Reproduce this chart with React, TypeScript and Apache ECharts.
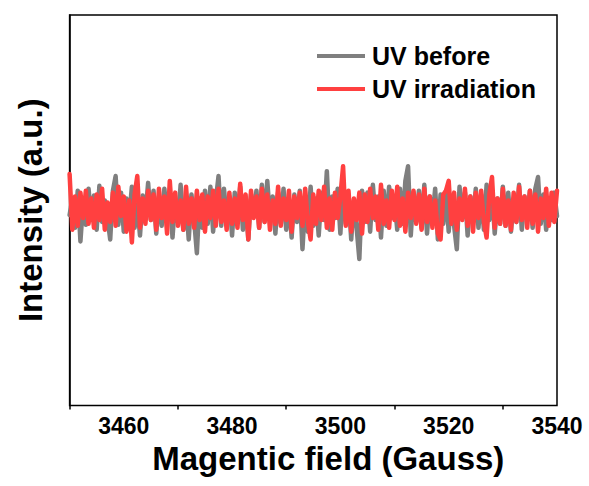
import React, { useEffect, useRef } from "react";
import * as echarts from "echarts";

// Magnetic field sampling (Gauss)
const fieldStart = 3450;
const fieldStep = 0.5;

// Tick labels
const majorTicks = [3460, 3480, 3500, 3520, 3540];
const minorTicks = [3450, 3470, 3490, 3510, 3530];

// EPR intensity (a.u.)
const uvBefore = [
  -5, 12, -18, 20, -32, 8, -15, 22, -10, 15,
  -20, 25, -12, 10, -8, -30, 20, 35, -15, 18,
  -22, 12, -8, 24, -18, 6, -26, 15, -5, 28,
  -10, 20, -24, 14, -16, 22, -6, 18, -28, 10,
  -12, 26, -20, 8, -30, 16, -10, -44, 12, -18,
  20, -14, 24, -22, 10, 35, -16, 22, -8, 14,
  -26, 18, -10, 24, -20, 12, -30, 16, -6, 20,
  -18, 26, -12, 30, -8, 14, -24, 18, -14, 22,
  -20, 10, -28, 16, -12, 20, -40, 8, -22, 24,
  -16, 12, -26, 18, -10, 40, -20, 14, -8, 22,
  -24, 28, -14, 16, -30, 10, -18, -50, 20, -12,
  18, -22, 26, -10, 14, -28, 20, -16, 24, -8,
  12, -20, 22, -14, 30, 45, -26, 18, -12, 20,
  -18, 26, -24, 14, -10, 22, -30, 16, -14, 20,
  -22, 12, -16, -40, 24, -8, 18, -26, 14, -12,
  22, -18, 16, -20, 26, -10, 20, -24, 12, -14,
  24, -16, 18, -22, 10, -12, 26, -20, 14, -8,
  20, -18, 22, 34, -14, 16, -20, 12, -10, 18,
  -6,
];

const uvIrradiation = [
  37, -20, 14, -16, 18, -8, 20, -14, 12, -18,
  16, -10, 22, -20, 8, -12, 18, -16, 24, -6,
  14, -22, 10, -33, 16, 35, -18, 12, -14, 20,
  -10, 16, -20, 22, -8, 14, -24, 30, -12, 18,
  -16, 10, -20, 24, -14, 12, -18, 20, -10, 16,
  -22, 14, -8, 20, -16, 22, -12, 10, -20, 18,
  -14, 12, -18, 27, -10, 16, -30, 20, -8, 14,
  -18, 22, -12, 16, -20, 10, -14, 24, -16, 12,
  -10, 20, -22, 14, -8, 18, -16, 22, -12, -30,
  16, -14, 20, -10, 24, -18, 12, -20, 18, -8,
  14, 45, -16, 20, -22, 12, -10, 18, -24, 16,
  -12, 22, -8, 14, -20, 26, -14, 10, -18, 20,
  -10, 24, -16, 12, -22, 18, -8, 20, -14, 16,
  -20, 22, -12, 14, -18, 10, -24, -30, 16, 20,
  30, -14, 18, -20, 12, -10, 22, -16, 14, -22,
  18, -8, 20, -12, -28, 16, 34, -18, 12, -14,
  22, -16, 10, -20, 18, -12, 24, -10, 14, -18,
  20, -14, 16, -22, 12, -8, 22, -16, 18, -12,
  20,
];

const toPairs = (vals: number[]) =>
  vals.map((v, i) => [fieldStart + i * fieldStep, v]);

const FONT = "'Liberation Sans', Arial, sans-serif";

export default function App() {
  const ref = useRef<HTMLDivElement>(null);

  useEffect(() => {
    document.body.style.margin = "0";
    if (!ref.current) return;
    const chart = echarts.init(ref.current, undefined, { renderer: "svg" });
    chart.setOption({
      animation: false,
      backgroundColor: "#fff",
      textStyle: { fontFamily: FONT },
      grid: {
        left: 69.6,
        right: 32,
        top: 15,
        bottom: 80.6,
        show: true,
        borderColor: "#000",
        borderWidth: 1.5,
        containLabel: false,
      },
      legend: {
        orient: "vertical",
        left: 317,
        top: 43.5,
        padding: 0,
        itemGap: 8,
        itemWidth: 48,
        itemHeight: 4,
        icon: "rect",
        textStyle: {
          fontFamily: FONT,
          fontSize: 25,
          fontWeight: "bold",
          color: "#000",
          padding: [0, 0, 0, 2],
        },
        data: ["UV before", "UV irradiation"],
      },
      xAxis: [
        {
          type: "value",
          min: 3450,
          max: 3540,
          position: "bottom",
          name: "Magentic field (Gauss)",
          nameLocation: "middle",
          nameGap: 36,
          nameTextStyle: {
            fontFamily: FONT,
            fontSize: 33,
            fontWeight: "bold",
            color: "#000",
            padding: [0, 0, 0, 30],
          },
          axisLine: { show: true, lineStyle: { color: "#000", width: 1.5 } },
          axisTick: {
            show: true,
            length: 7,
            inside: false,
            customValues: majorTicks,
            lineStyle: { color: "#000", width: 1.5 },
          },
          axisLabel: {
            show: true,
            customValues: majorTicks,
            formatter: (v: number) => String(v),
            margin: 9,
            fontFamily: FONT,
            fontSize: 23,
            fontWeight: "bold",
            color: "#000",
          },
          splitLine: { show: false },
        },
        {
          type: "value",
          min: 3450,
          max: 3540,
          position: "bottom",
          axisLine: { show: false },
          axisTick: {
            show: true,
            length: 4,
            inside: false,
            customValues: minorTicks,
            lineStyle: { color: "#000", width: 1.5 },
          },
          axisLabel: { show: false },
          splitLine: { show: false },
        },
      ],
      yAxis: {
        type: "value",
        min: -200,
        max: 200,
        name: "Intensity (a.u.)",
        nameLocation: "middle",
        nameGap: 23,
        nameTextStyle: {
          fontFamily: FONT,
          fontSize: 33,
          fontWeight: "bold",
          color: "#000",
        },
        axisLine: { show: true, lineStyle: { color: "#000", width: 1.5 } },
        axisTick: { show: false },
        axisLabel: { show: false },
        splitLine: { show: false },
      },
      series: [
        {
          name: "UV before",
          type: "line",
          xAxisIndex: 0,
          data: toPairs(uvBefore),
          showSymbol: false,
          symbol: "none",
          color: "#7f7f7f",
          lineStyle: { color: "#7f7f7f", width: 4.5, join: "round", cap: "round" },
        },
        {
          name: "UV irradiation",
          type: "line",
          xAxisIndex: 0,
          data: toPairs(uvIrradiation),
          showSymbol: false,
          symbol: "none",
          color: "#ff4040",
          lineStyle: { color: "#ff4040", width: 4.5, join: "round", cap: "round" },
        },
      ],
    });
    return () => chart.dispose();
  }, []);

  return <div ref={ref} style={{ width: 589, height: 486 }} />;
}
